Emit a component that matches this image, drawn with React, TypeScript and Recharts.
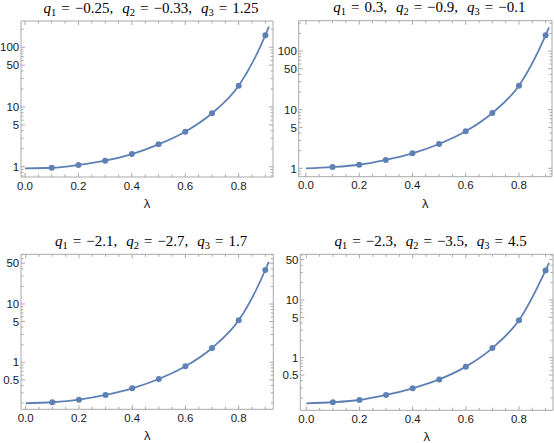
import { ComposedChart, Line, Scatter, XAxis, YAxis } from "recharts";

const BLUE = "#5e81b5";
const FRAME = "#a9a9a9";
const TXT = "#1a1a1a";

// sample positions
const LAMBDA = [0.1, 0.2, 0.3, 0.4, 0.5, 0.6, 0.7, 0.8, 0.9];
const CURVE_LAMBDA = [0, 0.1, 0.2, 0.3, 0.4, 0.5, 0.6, 0.7, 0.8, 0.9, 0.913];

// values
const P1_DOTS = [0.96, 1.07, 1.26, 1.63, 2.37, 3.85, 7.84, 22.7, 159];
const P1_CURVE = [0.94, 0.96, 1.07, 1.26, 1.63, 2.37, 3.85, 7.84, 22.7, 159, 221];
const P2_DOTS = [1.05, 1.15, 1.39, 1.8, 2.6, 4.28, 8.79, 25.7, 186];
const P2_CURVE = [1.0, 1.05, 1.15, 1.39, 1.8, 2.6, 4.28, 8.79, 25.7, 186, 255];
const P3_DOTS = [0.206, 0.228, 0.275, 0.358, 0.517, 0.853, 1.76, 5.25, 38.3];
const P3_CURVE = [0.198, 0.206, 0.228, 0.275, 0.358, 0.517, 0.853, 1.76, 5.25, 38.3, 53];
const P4_DOTS = [0.169, 0.185, 0.226, 0.295, 0.42, 0.7, 1.47, 4.45, 32.6];
const P4_CURVE = [0.162, 0.169, 0.185, 0.226, 0.295, 0.42, 0.7, 1.47, 4.45, 32.6, 44];

const P1_Q = ["−0.25", "−0.33", "1.25"];
const P2_Q = ["0.3", "−0.9", "−0.1"];
const P3_Q = ["−2.1", "−2.7", "1.7"];
const P4_Q = ["−2.3", "−3.5", "4.5"];

// ticks
const X_TICKS = [0, 0.05, 0.1, 0.15, 0.2, 0.25, 0.3, 0.35, 0.4, 0.45, 0.5, 0.55, 0.6, 0.65, 0.7, 0.75, 0.8, 0.85, 0.9];
const X_MAJOR = [0, 0.2, 0.4, 0.6, 0.8];
const Y_TICKS_TOP = [0.7, 0.8, 0.9, 1, 2, 3, 4, 5, 6, 7, 8, 9, 10, 20, 30, 40, 50, 60, 70, 80, 90, 100, 200, 300];
const Y_MAJOR_TOP = [1, 5, 10, 50, 100];
const Y_TICKS_BOT = [0.2, 0.3, 0.4, 0.5, 0.6, 0.7, 0.8, 0.9, 1, 2, 3, 4, 5, 6, 7, 8, 9, 10, 20, 30, 40, 50, 60, 70];
const Y_MAJOR_BOT = [0.5, 1, 5, 10, 50];

const isIn = (v: number, arr: number[]) => arr.some((a) => Math.abs(a - v) < 1e-9);

function FrameTick(props: any) {
  const { x, y, payload, side, majors, label } = props;
  const v = payload.value;
  const major = isIn(v, majors);
  const len = major ? 4 : 2.5;
  let line;
  if (side === "bottom") line = <line x1={x} y1={y} x2={x} y2={y - len} />;
  else if (side === "top") line = <line x1={x} y1={y} x2={x} y2={y + len} />;
  else if (side === "left") line = <line x1={x} y1={y} x2={x + len} y2={y} />;
  else line = <line x1={x} y1={y} x2={x - len} y2={y} />;
  return (
    <g>
      <g stroke={FRAME} strokeWidth={1}>{line}</g>
      {label && major && side === "bottom" && (
        <text x={x} y={y + 12.5} textAnchor="middle" fontSize={11.5} fill={TXT} fontFamily="Liberation Sans">
          {v.toFixed(1)}
        </text>
      )}
      {label && major && side === "left" && (
        <text x={x - 1.8} y={y + 4.2} textAnchor="end" fontSize={11.5} fill={TXT} fontFamily="Liberation Sans">
          {String(v)}
        </text>
      )}
    </g>
  );
}

function Title({ cx, y, q }: { cx: number; y: number; q: string[] }) {
  const parts: any[] = [];
  q.forEach((v, i) => {
    parts.push(<tspan key={"q" + i} dx={i > 0 ? 9 : 0} fontStyle="italic">q</tspan>);
    parts.push(<tspan key={"s" + i} fontSize={10.5} dy={3}>{i + 1}</tspan>);
    parts.push(<tspan key={"e" + i} dx={5} dy={-3}>=</tspan>);
    parts.push(<tspan key={"v" + i} dx={5}>{v + (i < 2 ? "," : "")}</tspan>);
  });
  return (
    <text x={cx} y={y} textAnchor="middle" fontSize={15} fill="#000" fontFamily="Liberation Serif">
      {parts}
    </text>
  );
}

type Panel = {
  left: number; top: number; w: number; h: number;
  pl: number; pt: number; pr: number; pb: number;
  xDomain: number[]; yDomain: number[];
  yTicks: number[]; yMajor: number[];
  dots: number[]; curve: number[]; q: string[];
};

const PANELS: Panel[] = [
  { left: 0, top: 0, w: 277, h: 221, pl: 21, pt: 21, pr: 273, pb: 177, xDomain: [-0.015, 0.9285], yDomain: [0.672, 275], yTicks: Y_TICKS_TOP, yMajor: Y_MAJOR_TOP, dots: P1_DOTS, curve: P1_CURVE, q: P1_Q },
  { left: 277, top: 0, w: 277, h: 221, pl: 21.7, pt: 20.7, pr: 275, pb: 176.7, xDomain: [-0.027, 0.924], yDomain: [0.719, 330], yTicks: Y_TICKS_TOP, yMajor: Y_MAJOR_TOP, dots: P2_DOTS, curve: P2_CURVE, q: P2_Q },
  { left: 0, top: 221, w: 277, h: 222, pl: 21, pt: 33.3, pr: 273.3, pb: 188.3, xDomain: [-0.0177, 0.93], yDomain: [0.156, 71.2], yTicks: Y_TICKS_BOT, yMajor: Y_MAJOR_BOT, dots: P3_DOTS, curve: P3_CURVE, q: P3_Q },
  { left: 277, top: 221, w: 277, h: 222, pl: 23.3, pt: 33.3, pr: 276, pb: 189.3, xDomain: [-0.0226, 0.928], yDomain: [0.1226, 62], yTicks: Y_TICKS_BOT, yMajor: Y_MAJOR_BOT, dots: P4_DOTS, curve: P4_CURVE, q: P4_Q },
];

function PanelChart({ p }: { p: Panel }) {
  const dots = LAMBDA.map((x, i) => ({ x, y: p.dots[i] }));
  const curve = CURVE_LAMBDA.map((x, i) => ({ x, y: p.curve[i] }));
  const yTicks = p.yTicks.filter((t) => t >= p.yDomain[0] && t <= p.yDomain[1]);
  const cx = (p.pl + p.pr) / 2;
  return (
    <div style={{ position: "absolute", left: p.left, top: p.top }}>
      <ComposedChart width={p.w} height={p.h} margin={{ top: 0, right: 0, bottom: 0, left: 0 }}>
        <XAxis xAxisId="b" type="number" dataKey="x" orientation="bottom" domain={p.xDomain} allowDataOverflow
          ticks={X_TICKS} interval={0} height={p.h - p.pb} tickSize={0} tickMargin={0} tickLine={false}
          axisLine={{ stroke: FRAME }} tick={<FrameTick side="bottom" majors={X_MAJOR} label />}
          label={{ content: () => (
            <text x={cx} y={p.pb + 31} textAnchor="middle" fontSize={13} fill={TXT} fontFamily="Liberation Sans">λ</text>
          ) }} />
        <XAxis xAxisId="t" type="number" dataKey="x" orientation="top" domain={p.xDomain} allowDataOverflow
          ticks={X_TICKS} interval={0} height={p.pt} tickSize={0} tickMargin={0} tickLine={false}
          axisLine={{ stroke: FRAME }} tick={<FrameTick side="top" majors={X_MAJOR} />}
          label={{ content: () => <Title cx={cx + 4} y={p.pt - 8.5} q={p.q} /> }} />
        <YAxis yAxisId="l" type="number" dataKey="y" scale="log" orientation="left" domain={p.yDomain} allowDataOverflow
          ticks={yTicks} interval={0} width={p.pl} tickSize={0} tickMargin={0} tickLine={false}
          axisLine={{ stroke: FRAME }} tick={<FrameTick side="left" majors={p.yMajor} label />} />
        <YAxis yAxisId="r" type="number" dataKey="y" scale="log" orientation="right" domain={p.yDomain} allowDataOverflow
          ticks={yTicks} interval={0} width={p.w - p.pr} tickSize={0} tickMargin={0} tickLine={false}
          axisLine={{ stroke: FRAME }} tick={<FrameTick side="right" majors={p.yMajor} />} />
        <Line xAxisId="b" yAxisId="l" data={curve} dataKey="y" type="monotone" stroke={BLUE} strokeWidth={1.8}
          dot={false} activeDot={false} isAnimationActive={false} />
        <Scatter xAxisId="b" yAxisId="l" data={dots} dataKey="y" fill={BLUE} isAnimationActive={false}
          shape={(s: any) => <circle cx={s.cx} cy={s.cy} r={3} fill={BLUE} />} />
      </ComposedChart>
    </div>
  );
}

export default function App() {
  return (
    <div style={{ position: "absolute", left: 0, top: 0, width: 554, height: 443, background: "#fff" }}>
      {PANELS.map((p, i) => <PanelChart key={i} p={p} />)}
    </div>
  );
}
